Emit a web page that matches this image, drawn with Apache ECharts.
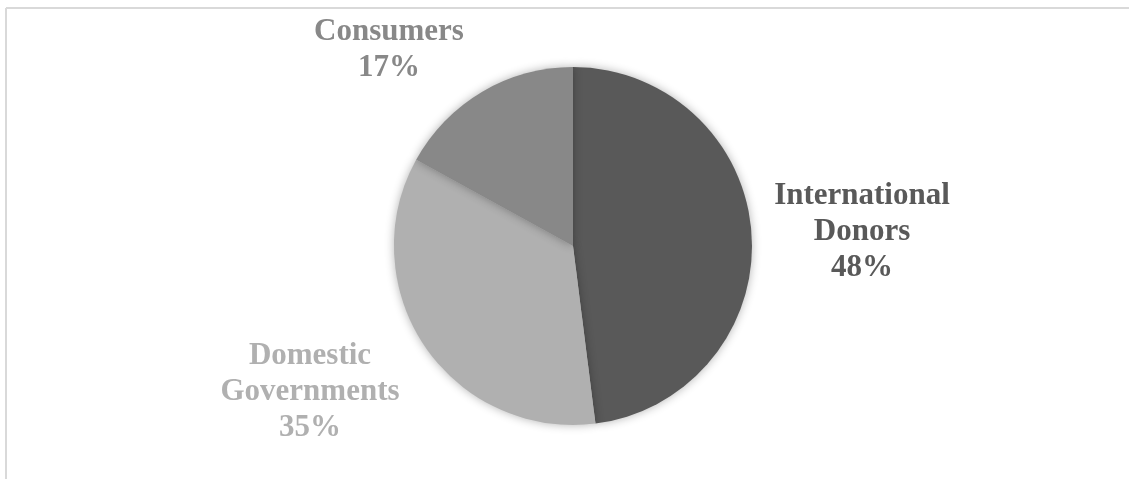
<!DOCTYPE html>
<html>
<head>
<meta charset="utf-8">
<script src="https://cdn.jsdelivr.net/npm/echarts@6/dist/echarts.min.js"></script>
<style>
html, body { margin: 0; padding: 0; background: #fff; }
#chart { width: 1129px; height: 479px; }
</style>
</head>
<body>
<div id="chart"></div>
<script>
// data
var names = ['International\nDonors', 'Domestic\nGovernments', 'Consumers'];
var values = [48, 35, 17];
var colors = ['#595959', '#b0b0b0', '#888888'];

// label centres (px)
var labelPos = [[862, 232], [310, 392], [389, 50]];

var chart = echarts.init(document.getElementById('chart'));

var pieData = names.map(function(n, i) {
	return {
		name: n,
		value: values[i],
		itemStyle: { color: colors[i] },
		label: { color: colors[i] }
	};
});

chart.setOption({
	animation: false,
	graphic: [
		{ type: 'line', shape: { x1: 6, y1: 8, x2: 1129, y2: 8 }, style: { stroke: '#d9d9d9', lineWidth: 2 } },
		{ type: 'line', shape: { x1: 6, y1: 8, x2: 6, y2: 479 }, style: { stroke: '#d9d9d9', lineWidth: 2 } }
	],
	series: [{
		type: 'pie',
		center: [573, 246],
		radius: 179,
		startAngle: 90,
		clockwise: true,
		data: pieData,
		itemStyle: {
			borderWidth: 0,
			shadowBlur: 10,
			shadowColor: 'rgba(0,0,0,0.3)'
		},
		label: {
			show: true,
			position: 'outside',
			formatter: function(p) { return p.name + '\n' + p.value + '%'; },
			fontFamily: '"Liberation Serif", "Times New Roman", serif',
			fontWeight: 'bold',
			fontSize: 31,
			lineHeight: 36,
			align: 'center'
		},
		labelLine: { show: false },
		labelLayout: function(params) {
			var p = labelPos[params.dataIndex];
			return { x: p[0], y: p[1], align: 'center', verticalAlign: 'middle' };
		}
	}]
});
</script>
</body>
</html>
